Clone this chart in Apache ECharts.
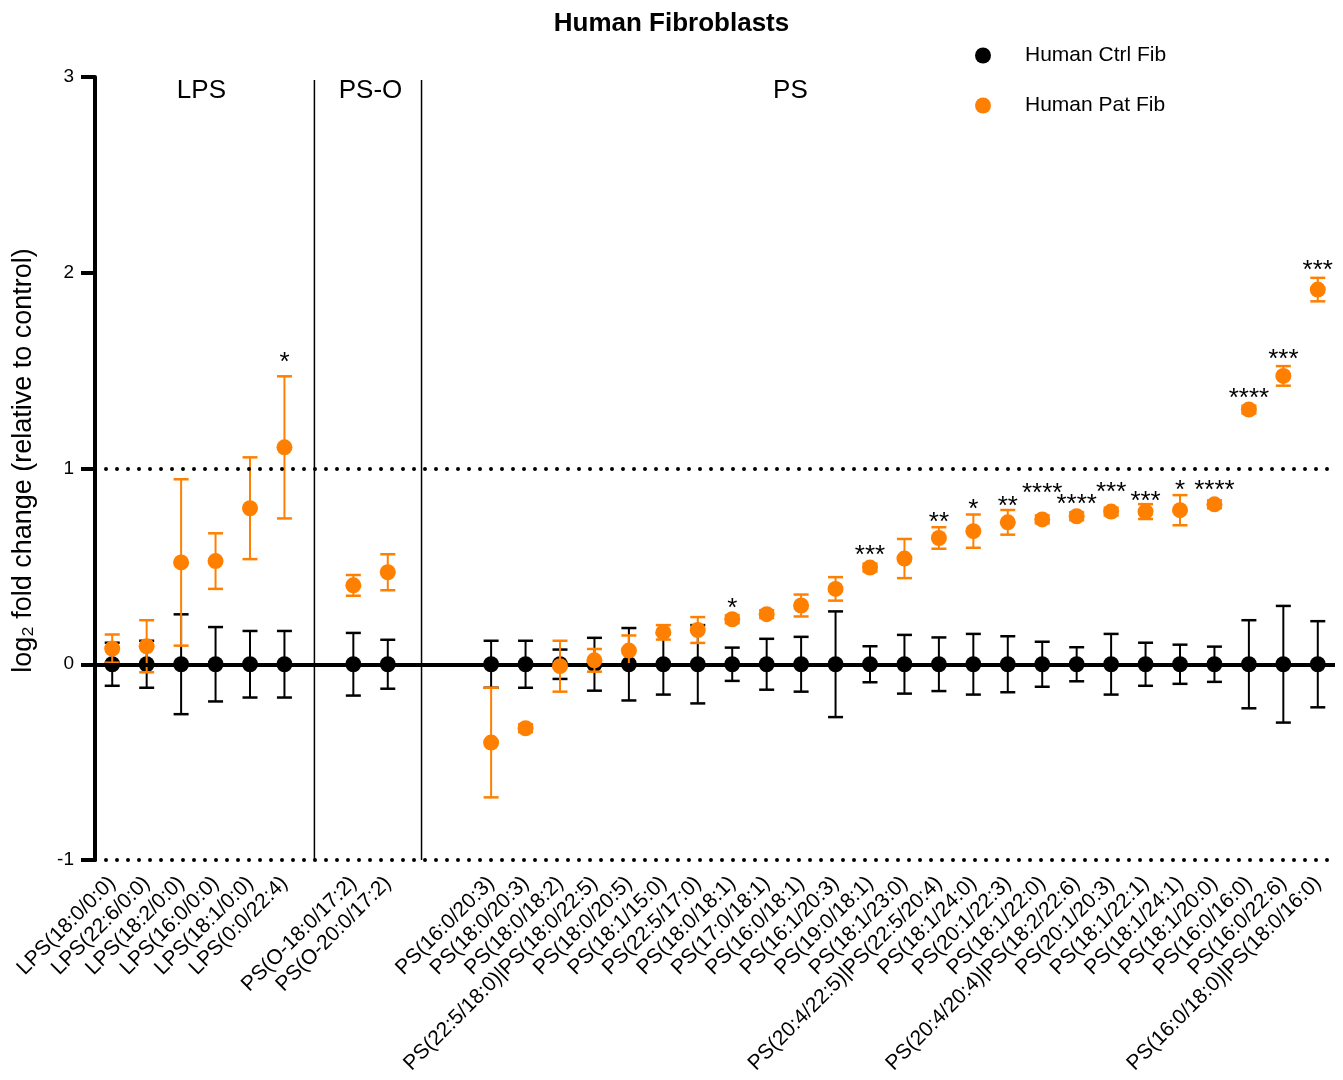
<!DOCTYPE html>
<html>
<head>
<meta charset="utf-8">
<script src="https://cdn.jsdelivr.net/npm/echarts@6/dist/echarts.min.js"></script>
<style>
html,body{margin:0;padding:0;background:#fff;}
#chart{width:1343px;height:1080px;}
</style>
</head>
<body>
<div id="chart"></div>
<script>
// ---------------- data ----------------
const categories = [
  'LPS(18:0/0:0)','LPS(22:6/0:0)','LPS(18:2/0:0)','LPS(16:0/0:0)','LPS(18:1/0:0)','LPS(0:0/22:4)',
  '',
  'PS(O-18:0/17:2)','PS(O-20:0/17:2)',
  '','',
  'PS(16:0/20:3)','PS(18:0/20:3)','PS(18:0/18:2)','PS(22:5/18:0)|PS(18:0/22:5)','PS(18:0/20:5)',
  'PS(18:1/15:0)','PS(22:5/17:0)','PS(18:0/18:1)','PS(17:0/18:1)','PS(16:0/18:1)',
  'PS(16:1/20:3)','PS(19:0/18:1)','PS(18:1/23:0)','PS(20:4/22:5)|PS(22:5/20:4)','PS(18:1/24:0)',
  'PS(20:1/22:3)','PS(18:1/22:0)','PS(20:4/20:4)|PS(18:2/22:6)','PS(20:1/20:3)','PS(18:1/22:1)',
  'PS(18:1/24:1)','PS(18:1/20:0)','PS(16:0/16:0)','PS(16:0/22:6)','PS(16:0/18:0)|PS(18:0/16:0)'
];
const ctrlMean = [0,0,0,0,0,0, null, 0,0, null,null,
  0,0,0,0,0, 0,0,0,0,0, 0,0,0,0,0, 0,0,0,0,0, 0,0,0,0,0];
const ctrlSem = [0.11,0.12,0.255,0.19,0.17,0.17, null, 0.16,0.125, null,null,
  0.12,0.12,0.075,0.135,0.185, 0.155,0.2,0.085,0.13,0.14,
  0.27,0.092,0.15,0.137,0.155, 0.143,0.115,0.087,0.155,0.11,
  0.1,0.09,0.225,0.298,0.22];
const patMean = [0.08,0.092,0.52,0.527,0.797,1.108, null, 0.403,0.47, null,null,
  -0.40,-0.327,-0.01,0.02,0.07, 0.163,0.175,0.23,0.256,0.30,
  0.385,0.494,0.54,0.645,0.68, 0.725,0.74,0.756,0.78,0.78,
  0.787,0.817,1.301,1.473,1.914];
const patSem = [0.072,0.133,0.425,0.142,0.26,0.363, null, 0.053,0.092, null,null,
  0.28,0.02,0.13,0.058,0.077, 0.037,0.066,0.02,0.02,0.056,
  0.06,0.02,0.10,0.055,0.085, 0.063,0.02,0.02,0.02,0.038,
  0.077,0.02,0.02,0.05,0.06];
const stars = ['','','','','','*', '', '','', '','',
  '','','','','', '','','*','','', '','***','','**','*', '**','****','****','***','***',
  '*','****','****','***','***'];
const starLevel = [null,null,null,null,null,1.568, null, null,null, null,null,
  null,null,null,null,null, null,null,0.313,null,null,
  null,0.587,null,0.752,0.822, 0.834,0.899,0.843,0.906,0.86,
  0.918,0.918,1.386,1.584,2.043];
const groupNames = ['LPS','PS-O','PS'];
const groupCenter = [2.59, 7.5, 19.69];
const groupDividers = [5.87, 8.98];
const yMin = -1, yMax = 3, yStep = 1;
const refLines = [1, -1];
const seriesNames = ['Human Ctrl Fib','Human Pat Fib'];
const colors = ['#000000','#FF8000'];

// ---------------- build ----------------
const FONT = '"Liberation Sans", Arial, sans-serif';
function pts(mean){ const o=[]; mean.forEach((v,i)=>{ if(v!==null) o.push([i,v]); }); return o; }
function errs(mean,sem){ const o=[]; mean.forEach((v,i)=>{ if(v!==null) o.push([i,v-sem[i],v+sem[i]]); }); return o; }
function errRender(color){
  return function(params, api){
    const x=api.value(0), lo=api.value(1), hi=api.value(2);
    const a=api.coord([x,hi]), b=api.coord([x,lo]);
    const w=7.5;
    return {type:'group', children:[
      {type:'line', shape:{x1:a[0],y1:a[1],x2:b[0],y2:b[1]}, style:{stroke:color,lineWidth:2}},
      {type:'line', shape:{x1:a[0]-w,y1:a[1],x2:a[0]+w,y2:a[1]}, style:{stroke:color,lineWidth:2.5}},
      {type:'line', shape:{x1:b[0]-w,y1:b[1],x2:b[0]+w,y2:b[1]}, style:{stroke:color,lineWidth:2.5}}
    ]};
  };
}
const starData=[]; stars.forEach((s,i)=>{ if(s) starData.push([i, starLevel[i], s]); });
const groupData = groupNames.map((g,i)=>[groupCenter[i], 2.93, g]);
const dividerData = groupDividers.map(d=>[d]);

const chart = echarts.init(document.getElementById('chart'));
chart.setOption({
  animation:false,
  backgroundColor:'#ffffff',
  textStyle:{fontFamily:FONT},
  title:{text:'Human Fibroblasts', left:'center', top:6,
    textStyle:{fontSize:26,fontWeight:'bold',color:'#000',fontFamily:FONT}},
  legend:{data:seriesNames, orient:'vertical', left:970, top:40, itemWidth:16, itemHeight:16, itemGap:29,
    icon:'circle', textStyle:{fontSize:21,color:'#000',padding:[0,0,0,29]}},
  grid:{left:95, right:8, top:77, bottom:220, containLabel:false},
  xAxis:[
    {type:'category', data:categories, boundaryGap:true,
     axisLine:{show:false}, axisTick:{show:false},
     axisLabel:{interval:0, rotate:45, fontSize:21, color:'#000', margin:20}},
    {type:'value', min:-0.5, max:35.5, show:false}
  ],
  yAxis:{type:'value', min:yMin, max:yMax, interval:yStep,
    name:'log\u2082 fold change (relative to control)', nameLocation:'middle', nameGap:58,
    nameTextStyle:{fontSize:27,color:'#000',padding:[0,0,0,16]},
    axisLine:{show:true, onZero:false, lineStyle:{color:'#000',width:4}},
    axisTick:{show:true, length:14, lineStyle:{color:'#000',width:4}},
    axisLabel:{fontSize:19,color:'#000',margin:21},
    splitLine:{show:false}},
  series:[
    {name:'ctrlErr', type:'custom', renderItem:errRender(colors[0]), data:errs(ctrlMean,ctrlSem),
     encode:{x:0,y:[1,2]}, z:2,
     markLine:{silent:true, symbol:'none', label:{show:false}, data:[
        {yAxis:0, lineStyle:{color:'#000',width:4,type:'solid'}},
        ...refLines.map(v=>({yAxis:v, lineStyle:{color:'#000',width:4,type:[0,11],cap:'round'}}))
     ]}},
    {name:seriesNames[0], type:'scatter', data:pts(ctrlMean), symbol:'circle', symbolSize:16,
     itemStyle:{color:colors[0], opacity:1}, z:3},
    {name:'patErr', type:'custom', renderItem:errRender(colors[1]), data:errs(patMean,patSem),
     encode:{x:0,y:[1,2]}, z:4},
    {name:seriesNames[1], type:'scatter', data:pts(patMean), symbol:'circle', symbolSize:16,
     itemStyle:{color:colors[1], opacity:1}, z:5},
    {name:'stars', type:'custom', data:starData, encode:{x:0,y:1}, z:6,
     renderItem:function(params, api){
       const p=api.coord([api.value(0), api.value(1)]);
       return {type:'text', style:{text:starData[params.dataIndex][2], x:p[0], y:p[1]+6,
         align:'center', verticalAlign:'middle', font:'26px ' + FONT, fill:'#000'}};
     }},
    {name:'groups', type:'custom', xAxisIndex:1, data:groupData, encode:{x:0,y:1}, z:6,
     renderItem:function(params, api){
       const p=api.coord([api.value(0), api.value(1)]);
       return {type:'text', style:{text:groupData[params.dataIndex][2], x:p[0], y:p[1],
         align:'center', verticalAlign:'middle', font:'26px ' + FONT, fill:'#000'}};
     }},
    {name:'dividers', type:'custom', xAxisIndex:1, data:dividerData, encode:{x:0}, z:1,
     renderItem:function(params, api){
       const a=api.coord([api.value(0), 2.985]), b=api.coord([api.value(0), yMin]);
       return {type:'line', shape:{x1:a[0],y1:a[1],x2:b[0],y2:b[1]}, style:{stroke:'#000',lineWidth:1.5}};
     }}
  ]
});
</script>
</body>
</html>
